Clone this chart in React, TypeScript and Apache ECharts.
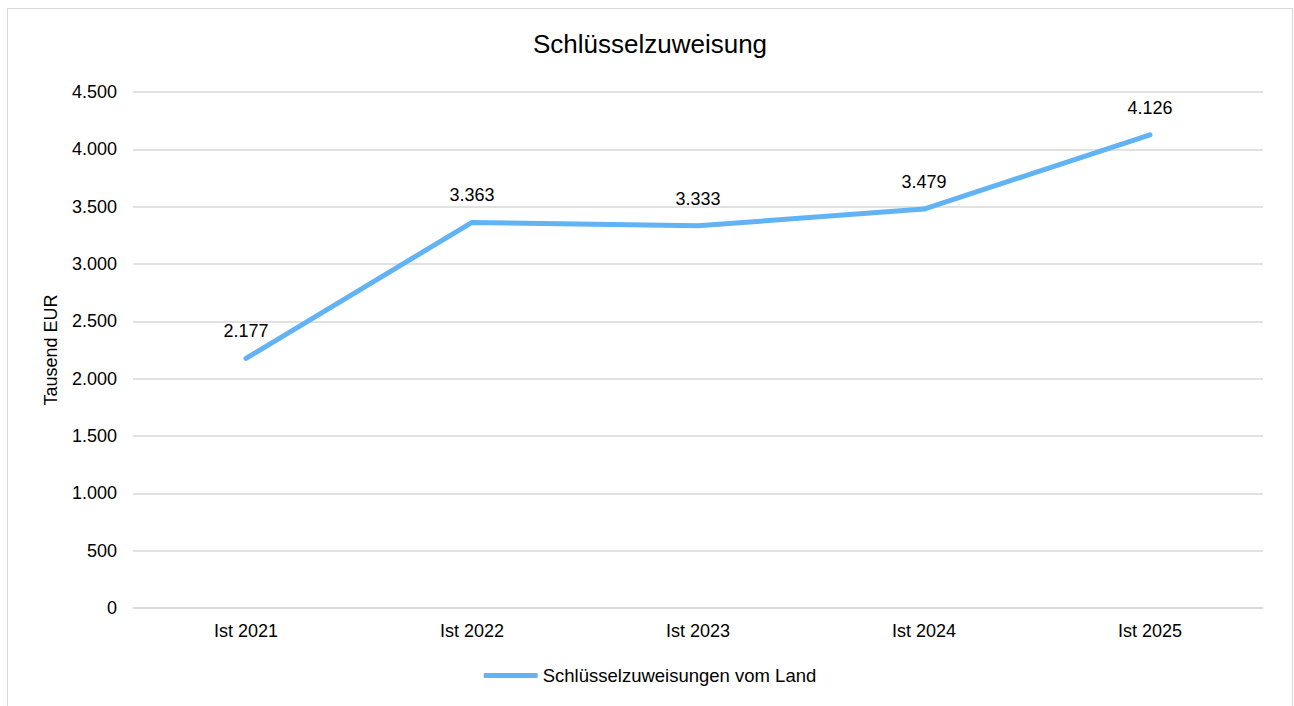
import React, { useEffect, useRef } from "react";
import * as echarts from "echarts";

const categories = ["Ist 2021", "Ist 2022", "Ist 2023", "Ist 2024", "Ist 2025"];
const values = [2177, 3363, 3333, 3479, 4126];
const seriesName = "Schlüsselzuweisungen vom Land";
const titleText = "Schlüsselzuweisung";
const yAxisName = "Tausend EUR";

const fmt = (v: number) => {
  const s = Math.round(v).toString();
  return s.replace(/\B(?=(\d{3})+(?!\d))/g, ".");
};

const FONT = "Liberation Sans, Arial, sans-serif";
const LINE_COLOR = "#61b3f4";

export default function App() {
  const ref = useRef<HTMLDivElement>(null);
  useEffect(() => {
    if (!ref.current) return;
    const chart = echarts.init(ref.current, undefined, { renderer: "svg" });
    chart.setOption({
      animation: false,
      backgroundColor: "#fff",
      textStyle: { fontFamily: FONT },
      title: {
        text: titleText,
        left: "center",
        top: 17,
        textStyle: { fontFamily: FONT, fontSize: 26, fontWeight: "normal", color: "#000" },
      },
      grid: { left: 125, right: 29, top: 83, bottom: 98, containLabel: false },
      legend: {
        top: 652,
        left: "center",
        icon: "roundRect",
        itemWidth: 54,
        itemHeight: 5,
        textStyle: { fontFamily: FONT, fontSize: 18.5, color: "#000" },
        data: [{ name: seriesName, itemStyle: { color: LINE_COLOR } }],
      },
      xAxis: {
        type: "category",
        data: categories,
        boundaryGap: true,
        axisLine: { show: true, lineStyle: { color: "#d9d9d9", width: 1.5 } },
        axisTick: { show: false },
        axisLabel: { fontFamily: FONT, fontSize: 18, color: "#000", margin: 14 },
      },
      yAxis: {
        type: "value",
        min: 0,
        max: 4500,
        interval: 500,
        name: yAxisName,
        nameLocation: "middle",
        nameGap: 73,
        nameRotate: 90,
        nameTextStyle: { fontFamily: FONT, fontSize: 18, color: "#000" },
        axisLine: { show: false },
        axisTick: { show: false },
        axisLabel: { fontFamily: FONT, fontSize: 18, color: "#000", margin: 16, formatter: (v: number) => fmt(v) },
        splitLine: { show: true, lineStyle: { color: "#d9d9d9", width: 1.5 } },
      },
      series: [
        {
          name: seriesName,
          type: "line",
          data: values,
          symbol: "circle",
          symbolSize: 2,
          showSymbol: true,
          lineStyle: { color: LINE_COLOR, width: 5, cap: "round", join: "round" },
          itemStyle: { color: LINE_COLOR },
          label: {
            show: true,
            position: "top",
            distance: 17,
            fontFamily: FONT,
            fontSize: 18,
            color: "#000",
            formatter: (p: any) => fmt(p.value),
          },
        },
      ],
    });
    return () => chart.dispose();
  }, []);
  return (
    <div
      style={{
        position: "absolute",
        left: 7,
        top: 8,
        width: 1286,
        height: 698,
        boxSizing: "border-box",
        border: "1px solid #d9d9d9",
        borderBottom: "none",
        background: "#fff",
      }}
    >
      <div ref={ref} style={{ width: 1284, height: 697 }} />
    </div>
  );
}
